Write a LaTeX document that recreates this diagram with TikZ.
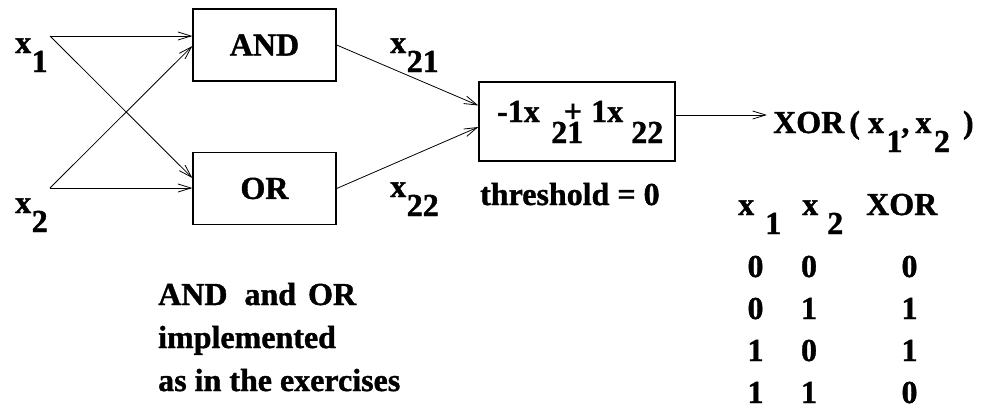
\documentclass[tikz,border=0pt]{standalone}
\usepackage{fontspec}
\setmainfont{Liberation Serif}[BoldFeatures={FakeBold=1.2}]
\usetikzlibrary{arrows.meta}
% lowered index, set at full size below the letter
\newcommand\dn[1]{\raisebox{-19pt}{#1}}
\begin{document}
\begin{tikzpicture}[x=1pt,y=-1pt,
  every node/.style={font=\fontsize{32}{38}\selectfont\bfseries, inner sep=0pt},
  txt/.style={anchor=base west},
  num/.style={anchor=base},
  gate/.style={draw, line width=1.3pt, minimum width=143pt, minimum height=72pt},
  conn/.style={line width=0.8pt, -{Straight Barb[length=13pt,width=8pt,line width=0.8pt]}},
]
\useasboundingbox (0,0) rectangle (981,416);

% inputs
\node[txt] (lx1) at (15,53) {x\kern0.5pt\dn{1}};
\node[txt] (lx2) at (15,213) {x\kern0.5pt\dn{2}};
\coordinate (i1) at (50,36);
\coordinate (i2) at (50,188);

% first layer
\node[gate] (and) at (264.5,45) {AND};
\node[gate] (or)  at (264.5,188.5) {OR};

\draw[conn] (i1) -- (and.west |- i1);
\draw[conn] (i1) -- ([yshift=10.5pt]or.west);
\draw[conn] (i2) -- (or.west |- i2);
\draw[conn] (i2) -- ([yshift=-1pt]and.west);

\node[txt] (l21) at (390,53)  {x\kern0.5pt\dn{21}};
\node[txt] (l22) at (390,197) {x\kern0.5pt\dn{22}};

% output unit
\node[gate, minimum width=196pt, minimum height=79pt] (sum) at (577,121.5) {};
\node[txt] (w1)  at (497,122) {-1x};
\node[txt] (s21) at (551,143) {21};
\node[num] (pl)  at (573,122) {+};
\node[txt] (w2)  at (591,122) {1x};
\node[txt] (s22) at (631,143) {22};
\node[txt] (thr) at (480,205) {threshold = 0};

\draw[conn] (and.east) -- ([yshift=16pt]sum.west);
\draw[conn] (or.east) -- ([yshift=-5.5pt]sum.west);

\coordinate (o) at (767,115);
\draw[conn] (sum.east |- o) -- (o);
\node[txt] (xor) at (773,133)
  {XOR\kern5pt(\kern8pt x\kern2.5pt\dn{1}\kern-1pt,\kern6pt x\kern2.5pt\dn{2}\kern13pt)};

% truth table
\node[txt] (h1) at (738,215) {x\kern11pt\dn{1}};
\node[txt] (h2) at (802,215) {x\kern9pt\dn{2}};
\node[txt] (h3) at (866,215) {XOR};

\foreach \a/\b/\c [count=\r] in {0/0/0,0/1/1,1/0/1,1/1/0}{
  \pgfmathsetmacro\yy{235+42*\r}
  \node[num] (ta\r) at (755.5,\yy) {\a};
  \node[num] (tb\r) at (809,\yy) {\b};
  \node[num] (tc\r) at (909.5,\yy) {\c};
}

% note
\node[txt] (n1) at (158,305) {AND\kern17pt and\kern12pt OR};
\node[txt] (n2) at (158,348) {implemented};
\node[txt] (n3) at (158,391) {as in the exercises};
\end{tikzpicture}
\end{document}
